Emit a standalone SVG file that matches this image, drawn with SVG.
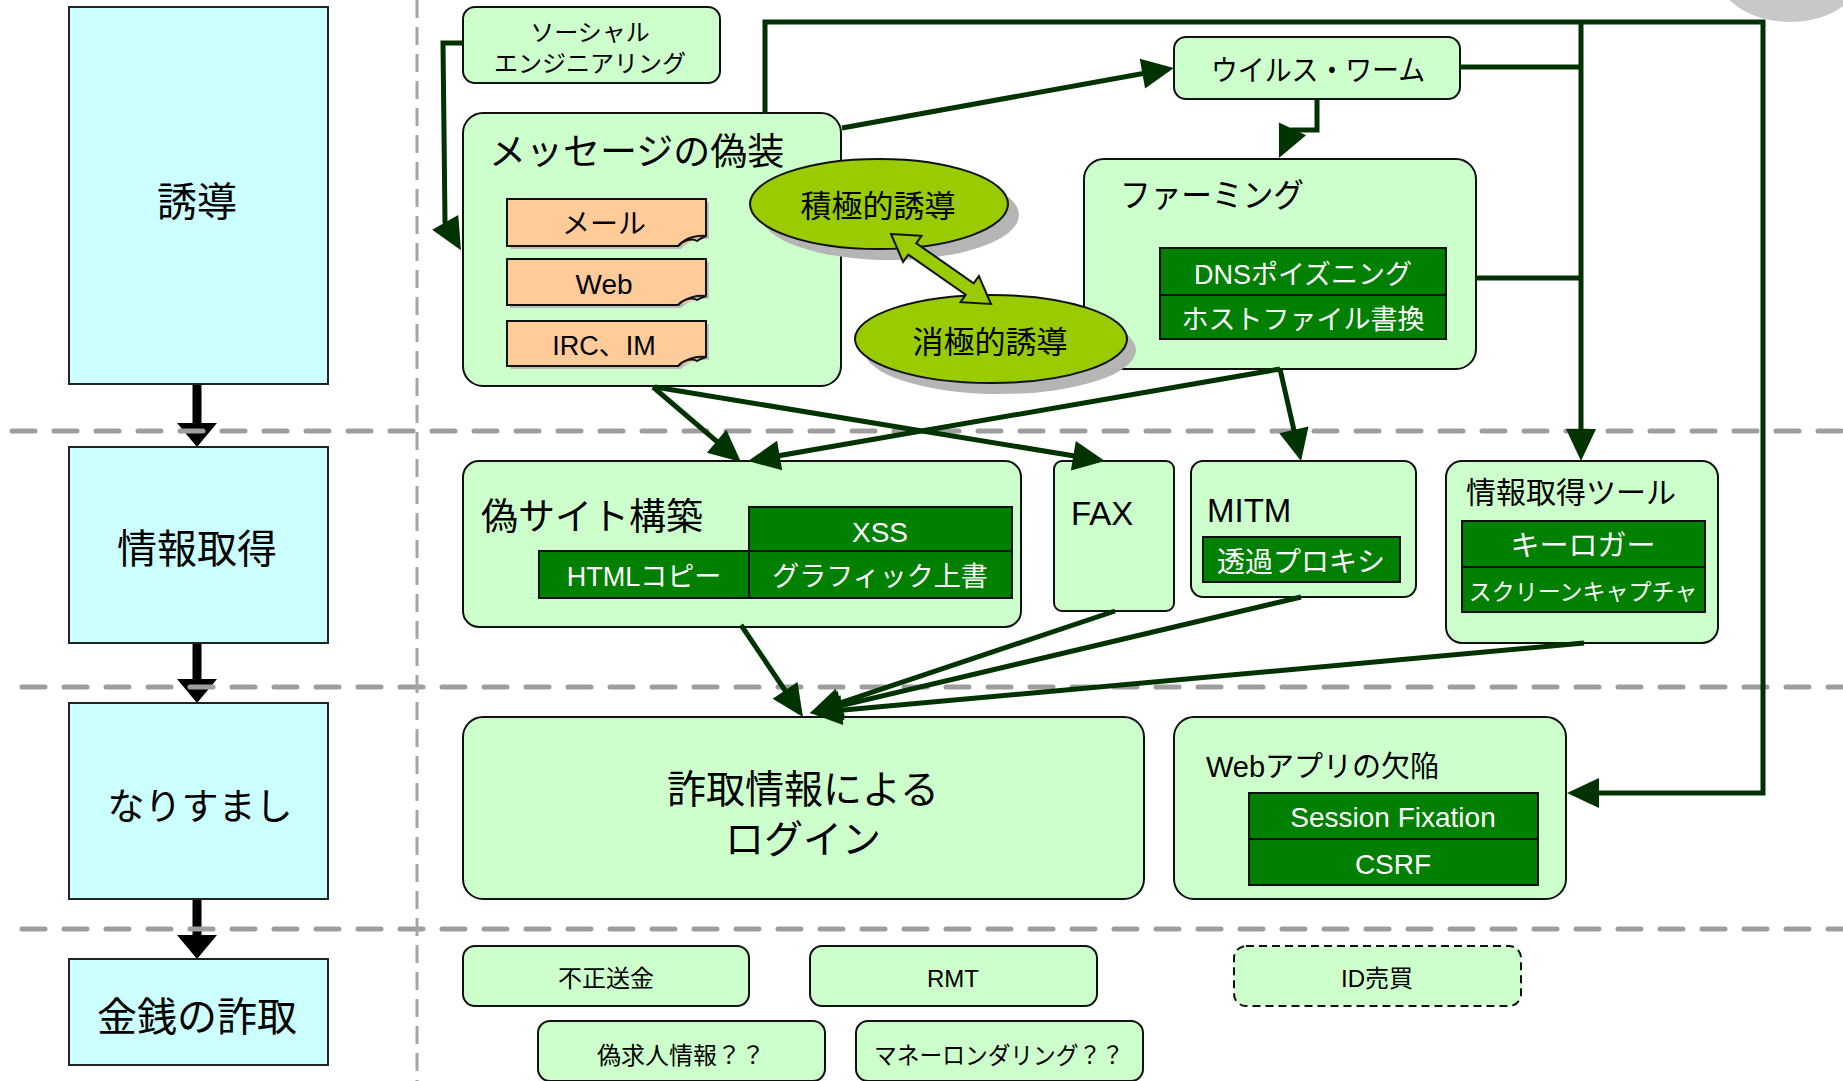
<svg xmlns="http://www.w3.org/2000/svg" width="1843" height="1081" viewBox="0 0 1843 1081">
  <style>
    text { font-family: "Liberation Sans", "Noto Sans CJK JP", sans-serif; fill: #000; }
    .w { fill: #fff; }
    .c { text-anchor: middle; }
    .phase { fill: #CCFFFF; stroke: #222; stroke-width: 2; }
    .box { fill: #CCFFCC; stroke: #111; stroke-width: 2; }
    .dark { fill: #008000; stroke: #111; stroke-width: 2; }
    .note { fill: #FFCC99; stroke: #111; stroke-width: 2; }
    .noteshadow { fill: #BDBDBD; }
    .oval { fill: #99CC00; stroke: #111; stroke-width: 2; }
    .ovalshadow { fill: #B5B5B5; }
    .sep { stroke: #9E9E9E; stroke-width: 5; stroke-dasharray: 23 19; stroke-linecap: round; fill: none; }
    .vsep { stroke: #A6A6A6; stroke-width: 3; stroke-dasharray: 18 9; fill: none; }
    .flow { stroke: #000; stroke-width: 9; stroke-linecap: round; fill: none; }
    .con { stroke: #003300; stroke-width: 5; fill: none; stroke-linejoin: miter; }
  </style>
  <defs>
    <marker id="ah" markerUnits="userSpaceOnUse" viewBox="-30 -18 40 36" markerWidth="40" markerHeight="36" refX="0" refY="0" orient="auto">
      <path d="M6,0 L-26,-15 L-26,15 Z" fill="#003300"/>
    </marker>
  </defs>

  <rect width="1843" height="1081" fill="#fff"/>

  <!-- decorative grey blob at the top-right corner -->
  <ellipse cx="1790" cy="-32" rx="75" ry="54" fill="#C8C8C8"/>

  <!-- phase flow arrows (left column) -->
  <g id="phase-arrows">
    <line class="flow" x1="197" y1="384" x2="197" y2="424"/>
    <polygon points="177,423 217,423 197,447" fill="#000"/>
    <line class="flow" x1="197" y1="643" x2="197" y2="680"/>
    <polygon points="177,679 217,679 197,703" fill="#000"/>
    <line class="flow" x1="197" y1="899" x2="197" y2="936"/>
    <polygon points="177,935 217,935 197,959" fill="#000"/>
  </g>

  <!-- lane separators -->
  <g id="separators">
    <line class="sep" x1="12" y1="431" x2="1843" y2="431"/>
    <line class="sep" x1="22" y1="687" x2="1843" y2="687"/>
    <line class="sep" x1="22" y1="929" x2="1843" y2="929"/>
    <line class="vsep" x1="417" y1="0" x2="417" y2="1081"/>
  </g>

  <!-- phases -->
  <g id="phase-yudou">
    <rect class="phase" x="69" y="7" width="259" height="377"/>
    <text class="c" x="197" y="216" font-size="40">誘導</text>
  </g>
  <g id="phase-joho">
    <rect class="phase" x="69" y="447" width="259" height="196"/>
    <text class="c" x="197" y="563" font-size="40">情報取得</text>
  </g>
  <g id="phase-narisumashi">
    <rect class="phase" x="69" y="703" width="259" height="196"/>
    <text class="c" x="200" y="820" font-size="37">なりすまし</text>
  </g>
  <g id="phase-kinsen">
    <rect class="phase" x="69" y="959" width="259" height="106"/>
    <text class="c" x="197" y="1031" font-size="40">金銭の詐取</text>
  </g>

  <!-- lure stage -->
  <g id="social-engineering">
    <rect class="box" x="463" y="7" width="257" height="76" rx="12"/>
    <text class="c" x="590" y="41" font-size="24">ソーシャル</text>
    <text class="c" x="590" y="72" font-size="24">エンジニアリング</text>
  </g>

  <g id="message-spoof">
    <rect class="box" x="463" y="113" width="378" height="273" rx="20"/>
    <text x="489" y="165" font-size="37">メッセージの偽装</text>
    <g id="note-mail">
      <path class="noteshadow" d="M510,202 H709 V239 C701,238 689,240 681,249 H510 Z"/>
      <path class="note" d="M507,199 H706 V236 C698,235 686,237 678,246 H507 Z"/>
      <path class="note" d="M678,246 C684,240 692,238 697,241 C700,239 703,237 706,236"/>
      <text class="c" x="604" y="234" font-size="28">メール</text>
    </g>
    <g id="note-web">
      <path class="noteshadow" d="M510,262 H709 V299 C701,298 689,300 681,308 H510 Z"/>
      <path class="note" d="M507,259 H706 V296 C698,295 686,297 678,305 H507 Z"/>
      <path class="note" d="M678,305 C684,299 692,297 697,300 C700,298 703,297 706,296"/>
      <text class="c" x="604" y="294" font-size="28">Web</text>
    </g>
    <g id="note-irc">
      <path class="noteshadow" d="M510,324 H709 V360 C701,359 689,361 681,369 H510 Z"/>
      <path class="note" d="M507,321 H706 V357 C698,356 686,358 678,366 H507 Z"/>
      <path class="note" d="M678,366 C684,360 692,358 697,361 C700,359 703,358 706,357"/>
      <text class="c" x="604" y="355" font-size="27">IRC、IM</text>
    </g>
  </g>

  <g id="virus-worm">
    <rect class="box" x="1174" y="37" width="286" height="62" rx="12"/>
    <text class="c" x="1318" y="81" font-size="29" textLength="214" lengthAdjust="spacingAndGlyphs">ウイルス・ワーム</text>
  </g>

  <g id="pharming">
    <rect class="box" x="1084" y="159" width="392" height="210" rx="20"/>
    <text x="1120" y="207" font-size="33" textLength="184" lengthAdjust="spacingAndGlyphs">ファーミング</text>
    <rect class="dark" x="1160" y="248" width="286" height="47"/>
    <text class="c w" x="1303" y="284" font-size="27">DNSポイズニング</text>
    <rect class="dark" x="1160" y="295" width="286" height="44"/>
    <text class="c w" x="1303" y="329" font-size="27">ホストファイル書換</text>
  </g>

  <!-- active / passive lure -->
  <g id="active-lure">
    <ellipse class="ovalshadow" cx="890" cy="215" rx="129" ry="45"/>
    <ellipse class="oval" cx="879" cy="204" rx="129" ry="45"/>
    <text class="c" x="878" y="217" font-size="31">積極的誘導</text>
  </g>
  <g id="passive-lure">
    <ellipse class="ovalshadow" cx="1000" cy="350" rx="136" ry="44"/>
    <ellipse class="oval" cx="991" cy="339" rx="136" ry="44"/>
    <text class="c" x="990" y="353" font-size="31">消極的誘導</text>
  </g>
  <g id="lure-link">
    <polygon class="oval" points="891,234 921.5,235.8 916.3,243.2 973.7,283.4 978.9,276 991,304 960.5,302.2 965.7,294.8 908.3,254.6 903.1,262"/>
  </g>

  <!-- information gathering stage -->
  <g id="fake-site">
    <rect class="box" x="463" y="461" width="558" height="166" rx="16"/>
    <text x="481" y="530" font-size="37">偽サイト構築</text>
    <rect class="dark" x="749" y="507" width="263" height="44"/>
    <text class="c w" x="880" y="542" font-size="28">XSS</text>
    <rect class="dark" x="539" y="551" width="210" height="47"/>
    <text class="c w" x="644" y="586" font-size="27">HTMLコピー</text>
    <rect class="dark" x="749" y="551" width="263" height="47"/>
    <text class="c w" x="880" y="586" font-size="27">グラフィック上書</text>
  </g>

  <g id="fax">
    <rect class="box" x="1054" y="461" width="120" height="150" rx="8"/>
    <text x="1071" y="525" font-size="33">FAX</text>
  </g>

  <g id="mitm">
    <rect class="box" x="1191" y="461" width="225" height="136" rx="12"/>
    <text x="1207" y="522" font-size="33">MITM</text>
    <rect class="dark" x="1203" y="537" width="197" height="45"/>
    <text class="c w" x="1301" y="572" font-size="28">透過プロキシ</text>
  </g>

  <g id="info-tools">
    <rect class="box" x="1446" y="461" width="272" height="182" rx="16"/>
    <text x="1466" y="503" font-size="30">情報取得ツール</text>
    <rect class="dark" x="1462" y="521" width="243" height="46"/>
    <text class="c w" x="1583" y="556" font-size="29">キーロガー</text>
    <rect class="dark" x="1462" y="567" width="243" height="45"/>
    <text class="c w" x="1583" y="600" font-size="23">スクリーンキャプチャ</text>
  </g>

  <!-- impersonation stage -->
  <g id="login">
    <rect class="box" x="463" y="717" width="681" height="182" rx="20"/>
    <text class="c" x="803" y="803" font-size="39">詐取情報による</text>
    <text class="c" x="803" y="853" font-size="39">ログイン</text>
  </g>

  <g id="webapp-flaw">
    <rect class="box" x="1174" y="717" width="392" height="182" rx="20"/>
    <text x="1206" y="777" font-size="29">Webアプリの欠陥</text>
    <rect class="dark" x="1249" y="793" width="289" height="46"/>
    <text class="c w" x="1393" y="827" font-size="28">Session Fixation</text>
    <rect class="dark" x="1249" y="839" width="289" height="46"/>
    <text class="c w" x="1393" y="874" font-size="28">CSRF</text>
  </g>

  <!-- fraud stage -->
  <g id="illegal-transfer">
    <rect class="box" x="463" y="946" width="286" height="60" rx="12"/>
    <text class="c" x="606" y="987" font-size="24">不正送金</text>
  </g>
  <g id="rmt">
    <rect class="box" x="810" y="946" width="287" height="60" rx="12"/>
    <text class="c" x="953" y="987" font-size="24">RMT</text>
  </g>
  <g id="id-trade">
    <rect class="box" x="1234" y="946" width="287" height="60" rx="12" stroke-dasharray="8 5"/>
    <text class="c" x="1377" y="987" font-size="24">ID売買</text>
  </g>
  <g id="fake-jobs">
    <rect class="box" x="538" y="1021" width="287" height="60" rx="12"/>
    <text class="c" x="681" y="1064" font-size="24">偽求人情報？？</text>
  </g>
  <g id="money-laundering">
    <rect class="box" x="856" y="1021" width="287" height="60" rx="12"/>
    <text class="c" x="999" y="1064" font-size="24" textLength="250" lengthAdjust="spacingAndGlyphs">マネーロンダリング？？</text>
  </g>

  <!-- connectors -->
  <g id="connectors">
    <path class="con" marker-end="url(#ah)" d="M463,43 H443 L445,222 L458,245"/>
    <path class="con" marker-end="url(#ah)" d="M765,113 V22 H1763 V793 H1573"/>
    <path class="con" marker-end="url(#ah)" d="M1581,22 V455"/>
    <path class="con" d="M1460,67 H1581"/>
    <path class="con" d="M1476,278 H1581"/>
    <path class="con" marker-end="url(#ah)" d="M842,128 L1168,69"/>
    <path class="con" marker-end="url(#ah)" d="M1317,99 V130 H1292 L1281.5,152.5"/>
    <path class="con" marker-end="url(#ah)" d="M653,387 L736.4,458.1"/>
    <path class="con" marker-end="url(#ah)" d="M655,387 L1099,460"/>
    <path class="con" marker-end="url(#ah)" d="M1280,369 L754,460"/>
    <path class="con" marker-end="url(#ah)" d="M1280,369 L1299.7,455.2"/>
    <path class="con" marker-end="url(#ah)" d="M741,625 L799.6,712"/>
    <path class="con" marker-end="url(#ah)" d="M1115,611 L815.7,711.1"/>
    <path class="con" marker-end="url(#ah)" d="M1301,597 L815.8,711.6"/>
    <path class="con" marker-end="url(#ah)" d="M1584,643 L816,712.5"/>
  </g>
</svg>
